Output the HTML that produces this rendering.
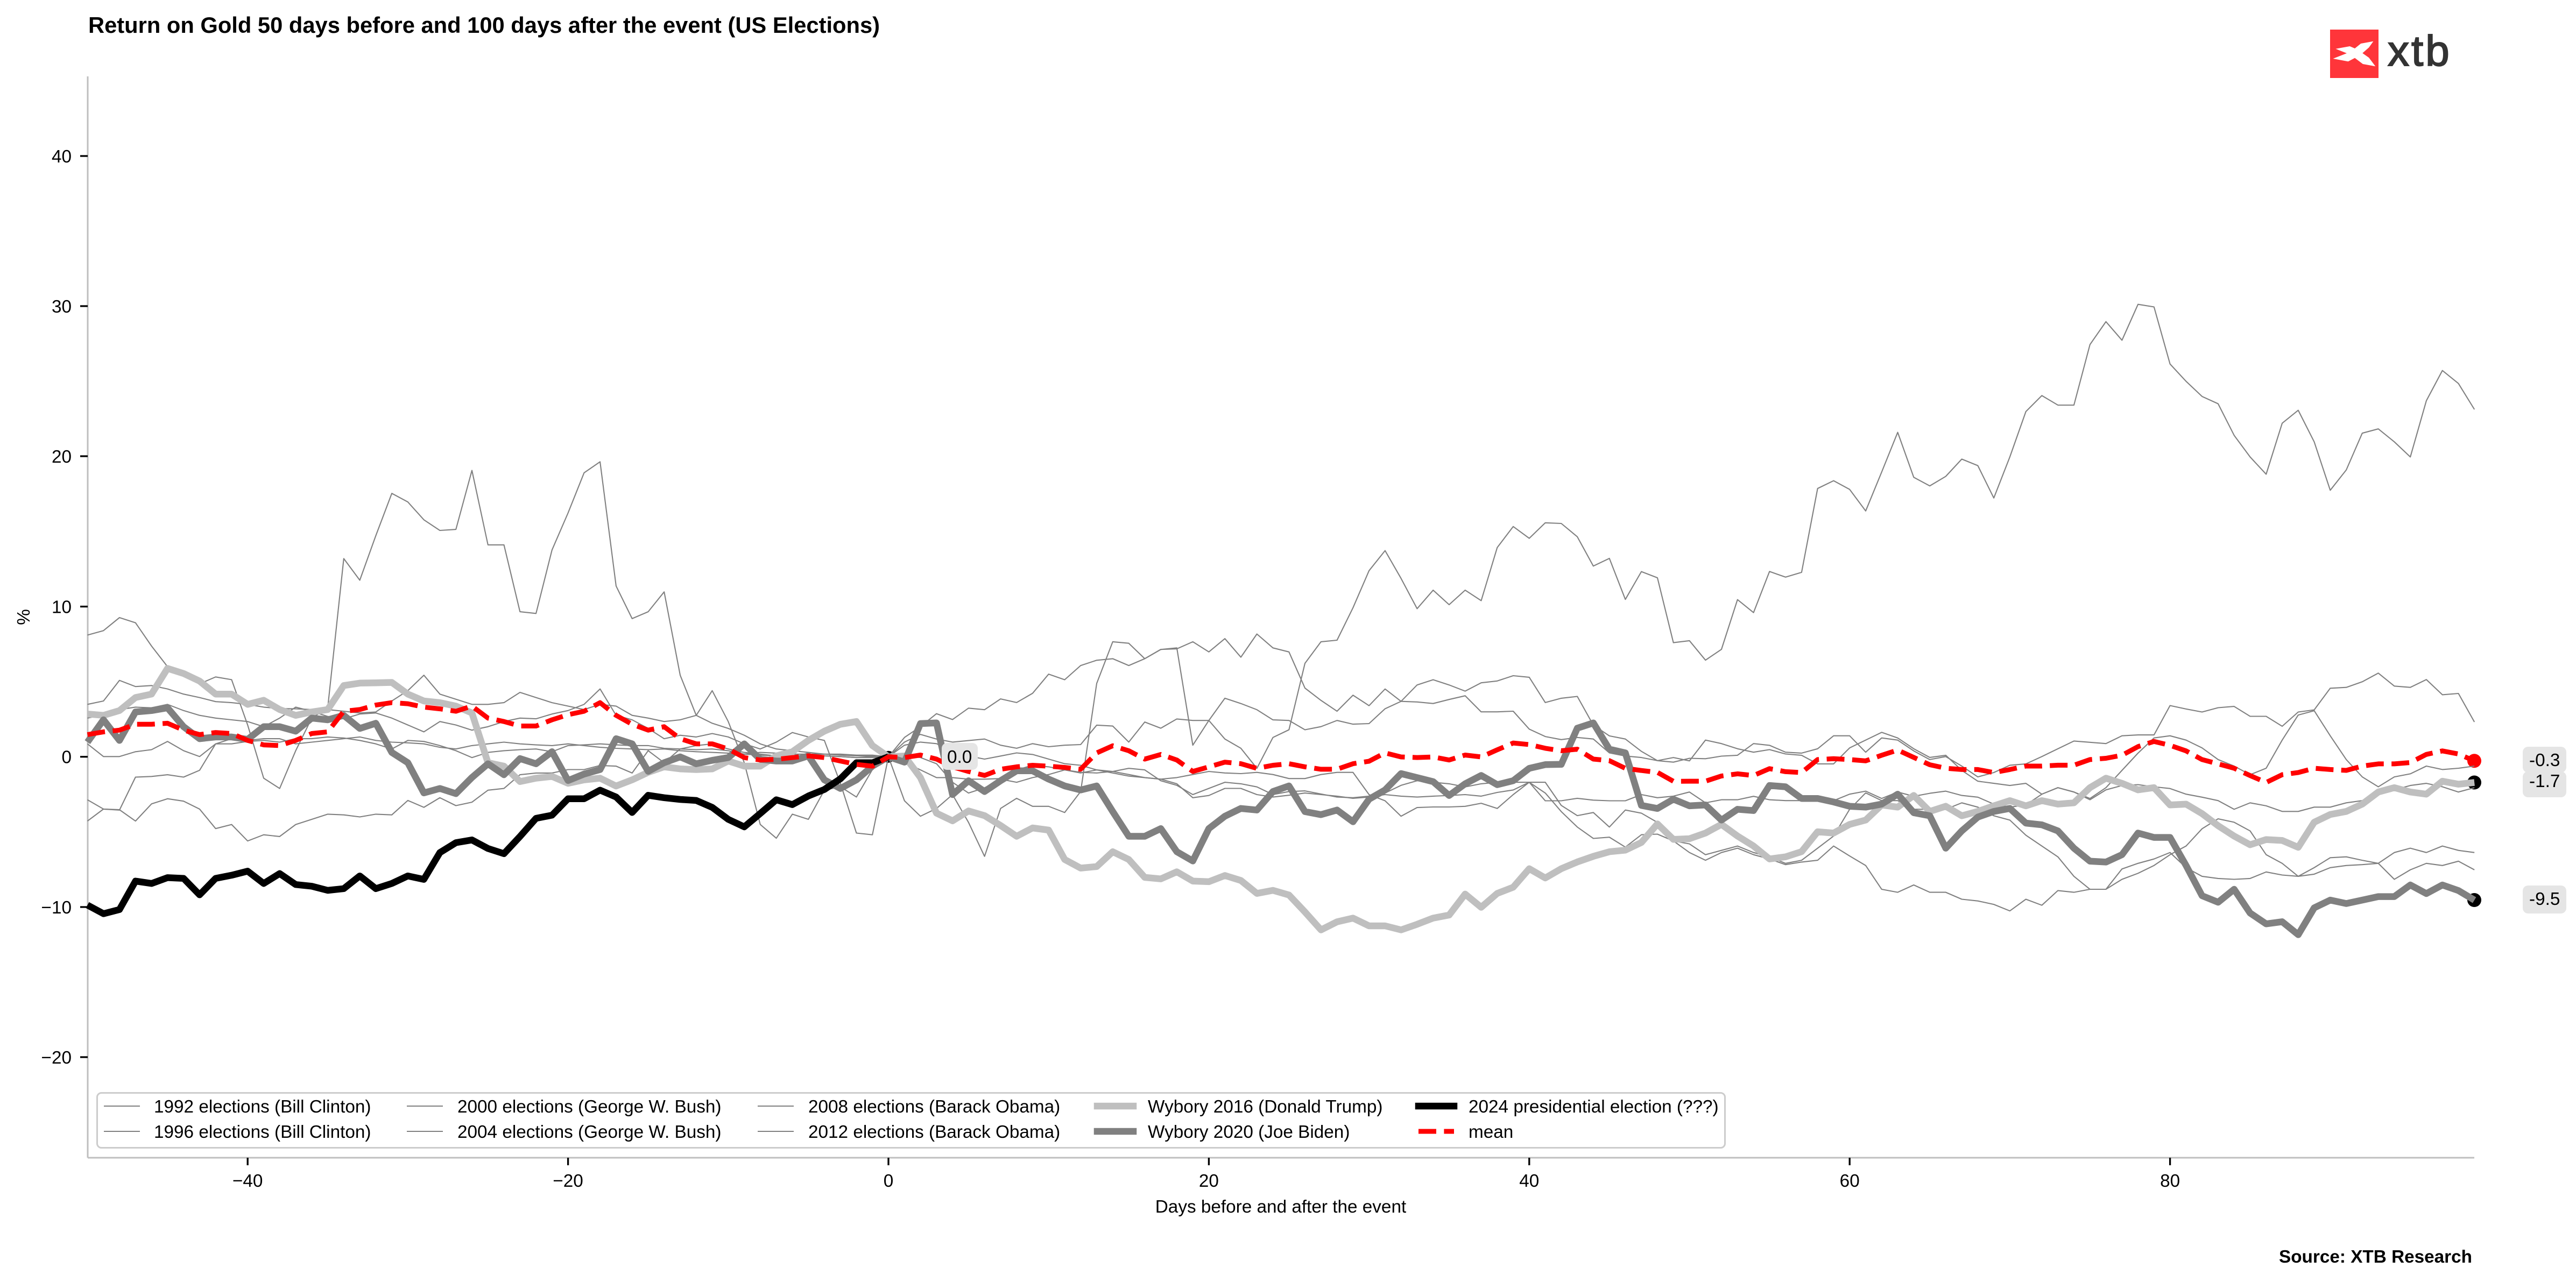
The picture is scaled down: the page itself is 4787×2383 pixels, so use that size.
<!DOCTYPE html>
<html>
<head>
<meta charset="utf-8">
<style>
html,body{margin:0;padding:0;background:#fff;}
svg{display:block;}
text{font-family:"Liberation Sans",Arial,Helvetica,sans-serif;fill:#000;}
</style>
</head>
<body>
<svg id="chart" xmlns="http://www.w3.org/2000/svg" width="4787" height="2383" viewBox="0 0 4787 2383">
<rect x="0" y="0" width="4787" height="2383" fill="#ffffff"/>

<!-- Title -->
<text x="164" y="61" font-size="41.7" font-weight="bold">Return on Gold 50 days before and 100 days after the event (US Elections)</text>

<!-- Logo -->
<rect x="4330" y="55" width="90" height="90" fill="#ff353a"/>
<polygon fill="#ffffff" points="4340.4,90.7 4366.6,86 4376,90 4387.2,81 4410.4,76.7 4402.2,88.3 4390.2,98.7 4402.2,107.3 4414.2,123.3 4390.9,119 4376,107.7 4363.6,114.3 4335.5,109 4361,99"/>
<text x="4437" y="122" font-size="80" letter-spacing="4" style="fill:#333333" stroke="#333333" stroke-width="2">xtb</text>

<!-- Spines -->
<line x1="163" y1="142" x2="163" y2="2152" stroke="#bfbfbf" stroke-width="3"/>
<line x1="163" y1="2152" x2="4598" y2="2152" stroke="#bfbfbf" stroke-width="3"/>

<!-- Y ticks -->
<g stroke="#000" stroke-width="3.3">
<line x1="149" y1="290" x2="163" y2="290"/>
<line x1="149" y1="569" x2="163" y2="569"/>
<line x1="149" y1="848" x2="163" y2="848"/>
<line x1="149" y1="1127.5" x2="163" y2="1127.5"/>
<line x1="149" y1="1406.7" x2="163" y2="1406.7"/>
<line x1="149" y1="1686" x2="163" y2="1686"/>
<line x1="149" y1="1965" x2="163" y2="1965"/>
</g>
<g font-size="33.3" text-anchor="end">
<text x="133" y="302">40</text>
<text x="133" y="581">30</text>
<text x="133" y="860">20</text>
<text x="133" y="1139.5">10</text>
<text x="133" y="1418.7">0</text>
<text x="133" y="1698">−10</text>
<text x="133" y="1977">−20</text>
</g>

<!-- X ticks -->
<g stroke="#000" stroke-width="3.3">
<line x1="460.2" y1="2152" x2="460.2" y2="2166"/>
<line x1="1055.6" y1="2152" x2="1055.6" y2="2166"/>
<line x1="1651" y1="2152" x2="1651" y2="2166"/>
<line x1="2246.4" y1="2152" x2="2246.4" y2="2166"/>
<line x1="2841.8" y1="2152" x2="2841.8" y2="2166"/>
<line x1="3437.2" y1="2152" x2="3437.2" y2="2166"/>
<line x1="4032.6" y1="2152" x2="4032.6" y2="2166"/>
</g>
<g font-size="33.3" text-anchor="middle">
<text x="460.2" y="2206">−40</text>
<text x="1055.6" y="2206">−20</text>
<text x="1651" y="2206">0</text>
<text x="2246.4" y="2206">20</text>
<text x="2841.8" y="2206">40</text>
<text x="3437.2" y="2206">60</text>
<text x="4032.6" y="2206">80</text>
</g>

<!-- Axis labels -->
<text x="2380" y="2254" font-size="33.3" text-anchor="middle">Days before and after the event</text>
<text transform="translate(55,1147) rotate(-90)" font-size="33.3" text-anchor="middle">%</text>

<!-- markers (under lines) -->
<circle cx="1651" cy="1406.7" r="11" fill="#000"/>
<circle cx="4598" cy="1454.5" r="13" fill="#000"/>
<circle cx="4598" cy="1673" r="13" fill="#000"/>
<circle cx="4598" cy="1414.3" r="13" fill="#ff0000"/>

<g id="series"></g>

<!-- value labels -->
<rect x="1750" y="1381" width="67" height="50" rx="10" fill="#e5e5e5"/>
<text x="1760" y="1418" font-size="33.3">0.0</text>
<rect x="4688" y="1434" width="81" height="48" rx="10" fill="#e5e5e5"/>
<text x="4700" y="1463" font-size="33.3">-1.7</text>
<rect x="4688" y="1388" width="81" height="48" rx="10" fill="#e5e5e5"/>
<text x="4700" y="1424" font-size="33.3">-0.3</text>
<rect x="4688" y="1646" width="81" height="52" rx="10" fill="#e5e5e5"/>
<text x="4700" y="1682" font-size="33.3">-9.5</text>

<!-- Legend -->
<rect x="180.5" y="2031.5" width="3025" height="102" rx="8" fill="#ffffff" fill-opacity="0.85" stroke="#cccccc" stroke-width="3"/>
<g stroke="#808080" stroke-width="2.1">
<line x1="193" y1="2056" x2="260" y2="2056"/>
<line x1="193" y1="2103" x2="260" y2="2103"/>
<line x1="756" y1="2056" x2="823" y2="2056"/>
<line x1="756" y1="2103" x2="823" y2="2103"/>
<line x1="1408" y1="2056" x2="1475" y2="2056"/>
<line x1="1408" y1="2103" x2="1475" y2="2103"/>
</g>
<line x1="2039" y1="2056" x2="2106" y2="2056" stroke="#bfbfbf" stroke-width="12.5" stroke-linecap="square"/>
<line x1="2039" y1="2103" x2="2106" y2="2103" stroke="#808080" stroke-width="12.5" stroke-linecap="square"/>
<line x1="2636" y1="2056" x2="2702" y2="2056" stroke="#000000" stroke-width="12.5" stroke-linecap="square"/>
<line x1="2636" y1="2103" x2="2702" y2="2103" stroke="#ff0000" stroke-width="9" stroke-dasharray="33,14.4"/>
<g font-size="33.3">
<text x="286" y="2068">1992 elections (Bill Clinton)</text>
<text x="286" y="2115">1996 elections (Bill Clinton)</text>
<text x="850" y="2068">2000 elections (George W. Bush)</text>
<text x="850" y="2115">2004 elections (George W. Bush)</text>
<text x="1502" y="2068">2008 elections (Barack Obama)</text>
<text x="1502" y="2115">2012 elections (Barack Obama)</text>
<text x="2133" y="2068">Wybory 2016 (Donald Trump)</text>
<text x="2133" y="2115">Wybory 2020 (Joe Biden)</text>
<text x="2729" y="2068">2024 presidential election (???)</text>
<text x="2729" y="2115">mean</text>
</g>

<!-- Source -->
<text x="4594" y="2347" font-size="33.3" font-weight="bold" text-anchor="end">Source: XTB Research</text>
</svg>

<script>
(function(){
var NS="http://www.w3.org/2000/svg";
var X0=1651, DX=29.77;
function P(a1,a2,a3){
  var p=[],i;
  for(i=0;i<50;i++) p.push([X0+DX*(i-50), 780+a1[i]/1.568]);
  if(a2){
    for(i=0;i<50;i++) p.push([X0+DX*i, (i===0?1406.7:880+a2[i]/1.742)]);
    for(i=0;i<50;i++) p.push([X0+DX*(i+50), 540+a3[i]/1.2444]);
  } else {
    p.push([X0,1406.7]);
  }
  return p.map(function(q){return q[0].toFixed(1)+","+q[1].toFixed(1);}).join(" ");
}
/* segment 1: days -50..-1 */
var s1={
 black:[1415,1440,1428,1345,1352,1335,1337,1385,1337,1328,1316,1352,1323,1355,1360,1372,1367,1330,1367,1352,1330,1340,1262,1233,1225,1250,1265,1215,1162,1153,1105,1105,1080,1100,1145,1095,1102,1107,1110,1130,1165,1187,1148,1108,1122,1097,1078,1047,1000,1000],
 silver:[858,862,848,810,800,725,740,762,800,800,830,818,845,862,852,845,775,768,767,766,800,820,825,835,855,1000,1010,1055,1045,1040,1060,1050,1045,1068,1050,1028,1012,1018,1020,1018,995,1010,1010,980,968,935,908,888,880,950],
 gray:[940,875,935,852,848,840,895,930,925,925,932,895,895,908,870,875,862,900,885,970,1000,1088,1075,1090,1043,1003,1035,988,1003,968,1052,1033,1020,930,945,1025,1000,983,1003,993,985,945,990,995,995,980,1050,1075,1050,1010],
 red:[918,910,905,888,888,885,905,918,912,915,935,948,950,935,915,910,850,845,832,825,828,838,843,850,835,870,880,893,893,875,860,850,825,862,888,905,895,930,945,945,960,985,992,990,985,980,985,995,1005,1010],
 t1:[628,615,577,592,660,720,740,770,750,758,890,1045,1075,965,870,840,405,468,338,215,240,292,323,320,148,365,365,560,565,380,272,155,123,485,580,560,502,745,862,790,880,1000,1180,1220,1150,1165,1080,1070,1100,1020],
 t2:[830,820,760,778,775,785,800,810,822,825,830,838,842,843,845,845,850,855,852,820,790,745,800,815,830,830,825,795,810,825,835,845,830,835,862,870,880,875,862,885,900,920,945,960,965,970,975,975,978,978],
 t3:[1108,1135,1137,1170,1120,1105,1112,1135,1192,1180,1228,1210,1215,1180,1165,1150,1152,1158,1150,1152,1110,1130,1102,1125,1115,1080,1075,1035,1030,1030,1020,1020,1008,1010,1030,965,1000,960,950,945,960,970,975,980,985,975,980,982,985,985],
 t4:[1170,1135,1138,1042,1040,1035,1042,1022,945,930,935,930,930,945,940,935,930,925,935,940,942,945,955,960,950,945,940,945,948,950,945,950,955,958,960,962,960,965,968,970,972,975,978,980,980,978,980,982,985,982],
 t5:[945,982,982,968,962,938,965,982,945,945,938,935,940,930,930,925,928,935,945,960,935,938,950,965,985,970,965,962,960,968,950,948,945,948,950,950,958,960,962,960,965,975,970,972,975,975,975,978,980,980],
 t6:[870,860,845,838,840,830,848,862,870,875,880,895,870,838,850,865,872,858,855,870,890,910,880,890,905,895,880,870,872,858,848,830,785,862,875,900,930,920,925,915,925,945,960,940,912,925,935,1060,1205,1210]
};
/* segment 2: days 0..49 */
var s2={
 silver:[917,915,985,1100,1125,1093,1108,1140,1175,1148,1155,1250,1278,1273,1225,1250,1308,1313,1290,1320,1322,1302,1318,1360,1350,1365,1420,1478,1452,1440,1465,1465,1478,1460,1440,1430,1362,1405,1360,1340,1280,1310,1280,1258,1240,1225,1220,1195,1135,1185],
 gray:[917,935,810,808,1040,995,1030,995,963,963,990,1012,1025,1012,1095,1175,1175,1150,1225,1255,1150,1110,1085,1090,1030,1012,1095,1105,1090,1128,1055,1025,972,985,998,1043,1005,978,1008,995,955,943,942,825,808,893,905,1075,1085,1055],
 red:[917,920,912,925,950,965,978,958,950,945,948,952,958,905,882,898,925,910,928,965,950,935,940,955,945,940,950,958,958,940,932,905,918,920,918,928,912,918,895,873,878,890,898,893,925,930,955,962,968,997],
 t1:[917,870,845,860,870,865,860,880,890,875,885,880,878,815,818,870,805,825,795,800,800,860,890,955,855,830,615,545,540,435,315,250,340,438,378,425,378,412,240,172,210,160,162,205,300,275,408,318,338,548],
 t2:[917,855,820,778,797,760,765,730,742,712,650,668,622,605,600,622,600,570,568,545,578,535,595,520,565,578,695,735,770,718,752,698,738,740,745,732,720,772,772,770,828,852,862,855,860,905,915,920,930,935],
 t3:[917,1060,1110,1085,1040,1130,1240,1085,1052,1078,1078,1098,1030,680,545,550,600,570,565,880,800,728,745,765,798,800,830,820,800,812,810,762,738,685,668,685,705,678,672,655,660,742,728,722,815,850,860,900,930,920],
 t4:[917,915,920,940,1000,1035,1018,990,1000,985,975,960,970,960,970,980,985,990,1005,1050,1043,1020,1020,1040,1048,1042,1035,1040,1045,1052,1048,1040,1045,1048,1045,1043,1040,1045,1033,1025,1000,1060,1060,1052,1058,1060,1060,1040,1050,1045],
 t5:[917,935,960,985,985,990,990,988,960,945,950,960,968,970,965,975,985,990,985,975,965,970,972,968,975,988,988,975,968,968,1040,1060,1110,1082,1080,1080,1078,1068,1085,1040,1000,1035,1095,1145,1182,1178,1210,1170,1168,1190],
 t6:[917,880,870,875,900,915,925,915,905,910,925,940,945,960,965,955,960,995,1010,1040,1020,1000,1005,1015,1040,1030,1028,1038,1048,1050,1045,1035,1010,995,1000,1005,1015,1005,1000,1000,1000,1000,1075,1108,1098,1145,1090,1100,1130,1190]
};
/* segment 3: days 50..99 */
var s3={
 silver:[1268,1255,1235,1262,1285,1315,1310,1298,1252,1255,1235,1225,1190,1195,1168,1205,1193,1215,1205,1192,1180,1192,1180,1188,1185,1150,1128,1140,1155,1150,1190,1188,1210,1238,1262,1282,1270,1272,1288,1230,1212,1205,1188,1160,1150,1160,1165,1135,1142,1138],
 gray:[1192,1190,1225,1200,1203,1145,1148,1175,1175,1183,1193,1195,1188,1165,1208,1215,1290,1250,1218,1205,1198,1232,1236,1250,1290,1320,1322,1305,1255,1265,1265,1330,1400,1415,1385,1440,1465,1460,1490,1428,1410,1418,1410,1402,1402,1375,1395,1375,1388,1410],
 red:[1135,1135,1123,1118,1122,1106,1113,1115,1085,1083,1085,1088,1075,1063,1080,1097,1105,1108,1108,1115,1108,1100,1100,1098,1098,1085,1082,1075,1055,1043,1052,1065,1085,1095,1105,1122,1138,1120,1115,1105,1108,1110,1100,1095,1095,1092,1073,1065,1072,1088],
 t1:[810,855,830,715,745,650,663,652,458,440,460,510,420,328,432,452,430,390,405,480,385,280,243,265,265,125,72,115,32,38,170,210,245,262,335,385,425,307,277,350,462,415,330,320,350,385,255,185,215,275],
 t2:[1082,1083,1077,1075,1048,1052,1068,1070,1060,1030,1030,1068,1035,1040,1065,1085,1078,1100,1125,1115,1098,1095,1078,1060,1042,1045,1048,1030,1028,1028,960,968,975,965,962,985,985,1008,975,970,920,918,905,885,915,918,900,935,932,998],
 t3:[1088,1040,1048,1060,1068,1062,1072,1075,1095,1095,1058,1040,1022,1035,1060,1080,1075,1110,1135,1140,1145,1140,1165,1150,1160,1175,1150,1110,1070,1035,1030,1040,1058,1085,1100,1120,1105,1040,982,972,1030,1085,1125,1148,1125,1118,1100,1108,1105,1100],
 t4:[1160,1185,1178,1178,1170,1178,1180,1180,1178,1180,1165,1158,1175,1160,1170,1163,1158,1168,1172,1188,1195,1190,1165,1150,1160,1178,1155,1145,1143,1148,1152,1165,1172,1180,1200,1185,1192,1205,1205,1195,1195,1185,1180,1165,1155,1145,1140,1148,1160,1150],
 t5:[1300,1318,1300,1290,1305,1315,1328,1322,1318,1285,1308,1330,1385,1392,1375,1392,1392,1408,1412,1420,1435,1408,1422,1388,1392,1385,1385,1338,1325,1315,1300,1335,1355,1360,1362,1360,1345,1352,1355,1350,1335,1330,1328,1325,1300,1290,1300,1285,1295,1300],
 t6:[1280,1305,1295,1285,1300,1310,1325,1318,1290,1262,1200,1162,1180,1180,1200,1200,1200,1185,1195,1215,1225,1260,1285,1310,1355,1385,1385,1362,1348,1330,1305,1285,1245,1222,1230,1250,1305,1325,1355,1335,1312,1310,1318,1325,1362,1340,1325,1330,1320,1340]
};
var g=document.getElementById("series");
function add(points,color,w,extra){
  var el=document.createElementNS(NS,"polyline");
  el.setAttribute("points",points);
  el.setAttribute("fill","none");
  el.setAttribute("stroke",color);
  el.setAttribute("stroke-width",w);
  el.setAttribute("stroke-linejoin","round");
  el.setAttribute("stroke-linecap","butt");
  if(extra){for(var k in extra) el.setAttribute(k,extra[k]);}
  g.appendChild(el);
}
["t1","t2","t3","t4","t5","t6"].forEach(function(k){
  add(P(s1[k],s2[k],s3[k]),"#808080",2.1);
});
add(P(s1.silver,s2.silver,s3.silver),"#bfbfbf",12.5);
add(P(s1.gray,s2.gray,s3.gray),"#808080",12.5);
add(P(s1.black),"#000000",12.5);
add(P(s1.red,s2.red,s3.red),"#ff0000",9,{"stroke-dasharray":"33,14.4"});
})();
</script>
</body>
</html>
